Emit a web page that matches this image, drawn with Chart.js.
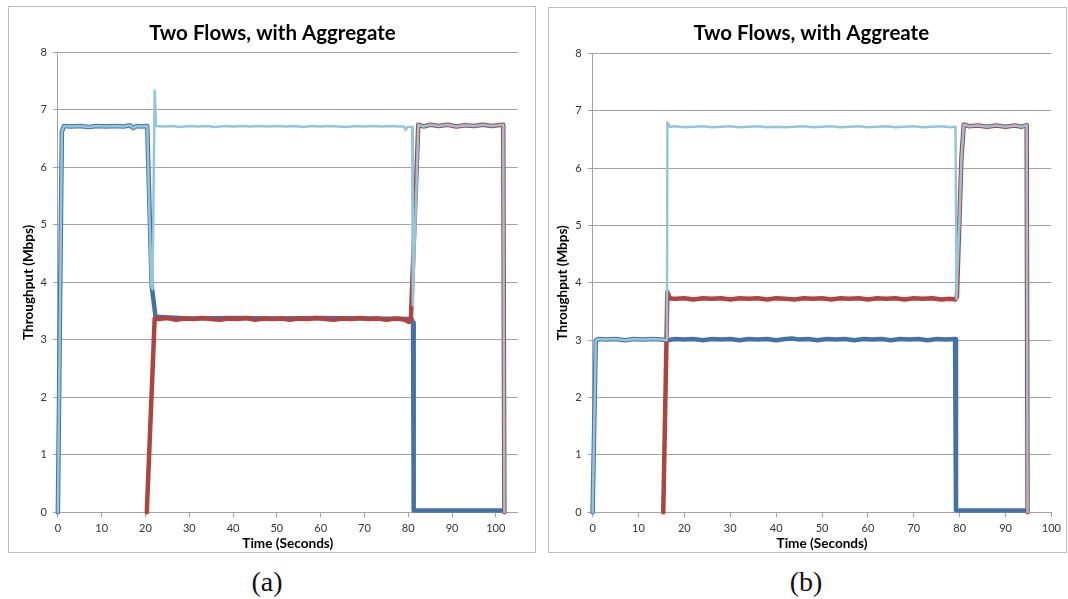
<!DOCTYPE html>
<html>
<head>
<meta charset="utf-8">
<script src="https://cdn.jsdelivr.net/npm/chart.js@4.4.1/dist/chart.umd.min.js"></script>
<style>
  html,body{margin:0;padding:0;background:#fff;}
  body{width:1068px;height:599px;position:relative;overflow:hidden;font-family:Lato,sans-serif;}
  .box{position:absolute;box-sizing:border-box;border:1px solid #BDBDBD;background:#fff;}
  .box canvas{display:block;}
  .cap{position:absolute;top:566px;width:60px;text-align:center;font:28px "Liberation Serif",serif;color:#111;}
</style>
</head>
<body>
<div class="box" style="left:8px;top:6px;width:528px;height:547px"><canvas id="cA"></canvas></div>
<div class="box" style="left:548px;top:7px;width:519px;height:546px"><canvas id="cB"></canvas></div>
<div class="cap" style="left:237px">(a)</div>
<div class="cap" style="left:776px">(b)</div>
<script>
// ---- data: [time (s), throughput (Mbps)] ----
const titleA = 'Two Flows, with Aggregate';
const titleB = 'Two Flows, with Aggreate';
const xTitle = 'Time (Seconds)';
const yTitle = 'Throughput (Mbps)';
const xMaxA = 105, xMaxB = 100;
const xTicks = [0, 10, 20, 30, 40, 50, 60, 70, 80, 90, 100];

// (a)
const flow1A = [[0,0],[0.9,6.62],[1.4,6.72],[3,6.71],[5,6.72],[7,6.70],[9,6.72],[11,6.71],[13,6.72],[15,6.71],
  [16.5,6.73],[17.2,6.68],[18,6.72],[19,6.71],[20.4,6.72],[21.4,3.95],[22.3,3.40],[30,3.37],[40,3.38],[50,3.37],
  [60,3.38],[70,3.37],[80.8,3.36],[81.1,3.30],[81.25,0.03],[101.5,0.03]];
const flow2A = [[20.3,0],[22.1,3.37],[23,3.36],[25,3.38],[27,3.35],[29,3.37],[31,3.36],[33,3.38],[35,3.36],[37,3.35],
  [39,3.37],[41,3.36],[43,3.38],[45,3.35],[47,3.37],[49,3.36],[51,3.37],[53,3.35],[55,3.37],[57,3.36],[59,3.38],
  [61,3.36],[63,3.35],[65,3.37],[67,3.36],[69,3.38],[71,3.36],[73,3.37],[75,3.35],[77,3.37],[78.5,3.36],[79.5,3.34],
  [80.2,3.31],[80.6,3.35],[82.3,6.74],[83.5,6.71],[85,6.74],[87,6.72],[89,6.74],[91,6.71],[93,6.73],[95,6.72],
  [97,6.74],[99,6.72],[100.5,6.73],[101.7,6.74],[101.95,0]];
const aggA = [[0,0],[0.9,6.62],[1.4,6.72],[3,6.71],[5,6.72],[7,6.70],[9,6.72],[11,6.71],[13,6.72],[15,6.71],
  [16.5,6.73],[17.2,6.68],[18,6.72],[19,6.71],[20.4,6.72],[21.3,3.95],[21.6,3.88],[22.1,7.33],[22.4,6.72],[24,6.71],
  [26,6.72],[28,6.70],[30,6.72],[32,6.71],[34,6.72],[36,6.70],[38,6.72],[40,6.71],[42,6.72],[44,6.71],[46,6.72],
  [48,6.71],[50,6.72],[52,6.71],[54,6.72],[56,6.70],[58,6.72],[60,6.71],[62,6.72],[64,6.71],[66,6.70],[68,6.72],
  [70,6.71],[72,6.72],[74,6.71],[76,6.72],[78,6.71],[79,6.71],[79.4,6.65],[79.8,6.70],[80.9,6.70],[81.05,3.6],
  [82.3,6.74],[83.5,6.71],[85,6.74],[87,6.72],[89,6.74],[91,6.71],[93,6.73],[95,6.72],[97,6.74],[99,6.72],
  [100.5,6.73],[101.7,6.74],[101.95,0]];

// (b)
const flow1B = [[0,0],[0.7,3.0],[1.2,3.02],[3,3.01],[5,3.02],[7,3.0],[9,3.02],[11,3.01],[13,3.02],[15,3.01],
  [16.3,3.0],[18,3.02],[20,3.01],[22,3.02],[24,3.0],[26,3.02],[28,3.01],[30,3.02],[32,3.0],[34,3.02],[36,3.01],
  [38,3.02],[40,3.0],[42,3.02],[43.5,3.03],[45,3.01],[47,3.02],[49,3.0],[51,3.02],[53,3.01],[55,3.02],[57,3.0],
  [59,3.02],[61,3.01],[63,3.02],[65,3.0],[67,3.02],[69,3.01],[71,3.02],[73,3.0],[75,3.02],[77,3.01],[79,3.02],
  [79.2,0.03],[94.1,0.03]];
const flow2B = [[15.4,0],[16.3,3.84],[16.8,3.73],[18,3.72],[20,3.73],[22,3.71],[24,3.73],[26,3.72],[28,3.73],
  [30,3.71],[32,3.73],[34,3.72],[36,3.73],[38,3.71],[40,3.73],[42,3.72],[44,3.71],[46,3.73],[48,3.72],[50,3.73],
  [52,3.71],[54,3.73],[56,3.72],[58,3.73],[60,3.71],[62,3.73],[64,3.72],[66,3.73],[68,3.71],[70,3.73],[72,3.72],
  [74,3.73],[76,3.71],[78,3.72],[79.1,3.71],[79.4,3.75],[79.9,5.0],[80.4,6.2],[80.9,6.76],[82,6.73],[84,6.74],
  [86,6.72],[88,6.74],[90,6.72],[92,6.74],[93.5,6.72],[94.6,6.75],[94.8,0]];
const aggB = [[0,0],[0.7,3.0],[1.2,3.02],[3,3.01],[5,3.02],[7,3.0],[9,3.02],[11,3.01],[13,3.02],[15,3.01],
  [16.2,3.0],[16.3,6.8],[16.8,6.72],[18,6.73],[20,6.71],[22,6.72],[24,6.73],[26,6.71],[28,6.72],[30,6.73],
  [32,6.71],[34,6.72],[36,6.73],[38,6.71],[40,6.72],[42,6.71],[44,6.72],[46,6.73],[48,6.71],[50,6.72],[52,6.73],
  [54,6.71],[56,6.72],[58,6.73],[60,6.71],[62,6.72],[64,6.73],[66,6.71],[68,6.72],[70,6.73],[72,6.71],[74,6.72],
  [76,6.73],[78,6.71],[79.1,6.72],[79.3,3.72],[79.9,5.0],[80.4,6.2],[80.9,6.76],[82,6.73],[84,6.74],[86,6.72],
  [88,6.74],[90,6.72],[92,6.74],[93.5,6.72],[94.6,6.75],[94.8,0]];

(function(){
  const GRID='#A3A3A3', INK='#333', BLUE='#4571AB', RED='#AE4340', AQUA='#93C6DA';
  const FONT='Lato, "Open Sans", sans-serif';
  const pts = a => a.map(p => ({x:p[0], y:p[1]}));

  function build(id, title, f1, f2, agg, xMax, L){
    return new Chart(document.getElementById(id), {
      type:'line',
      data:{datasets:[
        {label:'Aggregate', data:pts(agg), borderColor:AQUA, borderWidth:2.5, order:1},
        {label:'Flow 2', data:pts(f2), borderColor:RED, borderWidth:4.5, order:2},
        {label:'Flow 1', data:pts(f1), borderColor:BLUE, borderWidth:4.5, order:3}
      ]},
      options:{
        responsive:true, maintainAspectRatio:false, animation:false, devicePixelRatio:1,
        layout:{padding:{top:0, right:L.padR, bottom:0, left:L.padL}},
        elements:{point:{radius:0}, line:{tension:0, borderJoinStyle:'round', borderCapStyle:'round', fill:false}},
        datasets:{line:{clip:false}},
        plugins:{
          legend:{display:false}, tooltip:{enabled:false},
          title:{display:true, text:title, color:'#000', font:{family:FONT, size:20.5, weight:'bold'},
                 padding:{top:L.tTop, bottom:L.tBot}}
        },
        scales:{
          x:{type:'linear', min:0, max:xMax,
             afterBuildTicks:s=>{s.ticks=xTicks.map(v=>({value:v}));},
             afterFit:s=>{s.height=L.xH;},
             ticks:{autoSkip:false, maxRotation:0, color:INK, padding:5, font:{family:FONT, size:11}},
             grid:{drawOnChartArea:false, color:GRID, tickLength:5},
             border:{color:GRID},
             title:{display:true, text:xTitle, color:'#000', font:{family:FONT, size:13.6, weight:'bold'}, padding:{top:0, bottom:0}}},
          y:{min:0, max:8,
             afterFit:s=>{s.width=L.yW;},
             ticks:{stepSize:1, color:INK, padding:6, font:{family:FONT, size:11}},
             grid:{color:GRID, tickLength:5},
             border:{color:GRID},
             title:{display:true, text:yTitle, color:'#000', font:{family:FONT, size:13.5, weight:'bold'}, padding:{top:L.yT, bottom:0}}}
        }
      }
    });
  }

  build('cA', titleA, flow1A, flow2A, aggA, xMaxA, {padL:18.3, yW:30.6, padR:17.3, tTop:14, tBot:6.7, xH:39.7, yT:-6.4});
  build('cB', titleB, flow1B, flow2B, aggB, xMaxB, {padL:16.8, yW:26.8, padR:9.2, tTop:13, tBot:7.7, xH:39.7, yT:-10.9});
})();
</script>
</body>
</html>
